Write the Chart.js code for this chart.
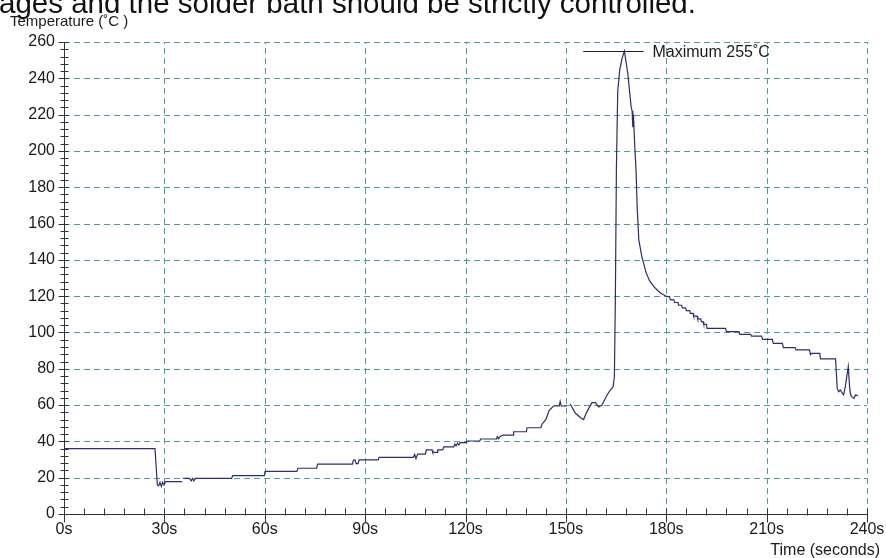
<!DOCTYPE html>
<html>
<head>
<meta charset="utf-8">
<script src="https://cdn.jsdelivr.net/npm/chart.js@4/dist/chart.umd.min.js"></script>
<style>
  html, body { margin: 0; padding: 0; background: #fff; }
  #wrap { width: 886px; height: 558px; position: relative; }
</style>
</head>
<body>
<div id="wrap"><canvas id="c" width="886" height="558"></canvas></div>
<script>
// Solder-bath temperature log: time (s) and temperature (°C); null = logger dropout
const timeSec = [
  0, 27.2, 27.9, 28.3, 28.7, 29.1, 29.5, 29.9, 30.3, 35.3,
  35.45, 35.6, 37.5, 38.0, 38.4, 38.8, 39.3, 50.1, 50.4, 59.9, 60.1,
  69.6, 69.9, 75.5, 75.8, 86.2, 86.5, 87.0, 87.3, 87.9, 88.2,
  93.9, 94.2, 104.4, 104.8, 105.2, 105.7, 108.0, 108.3, 110.0, 110.2,
  111.5, 111.7, 113.2, 113.5, 116.5, 116.8, 117.2, 117.6, 118.0, 118.4,
  120.3, 120.5, 124.3, 124.5, 129.3, 129.5, 129.9, 130.3, 131.2, 134.2,
  134.4, 138.2, 138.4, 142.5, 142.9, 144.0, 145.0, 146.3, 148.0, 148.3,
  148.6, 150.3, 150.8, 151.3, 152.8, 154.4, 155.3, 156.3, 157.8, 158.8, 159.8,
  160.8, 162.3, 163.3, 164.1, 164.5, 164.8, 165.1, 165.5, 166.1, 166.8,
  167.5, 168.5, 169.5, 169.8, 170.0, 170.2, 170.5, 171.0, 171.3, 171.8,
  172.7, 174.0, 175.0, 176.3, 177.5, 178.5, 179.5, 180.3, 181.0, 181.2,
  182.3, 182.5, 183.5, 183.7, 184.6, 184.8, 185.8, 186.0, 187.0, 187.2,
  188.0, 188.2, 189.2, 189.4, 190.3, 190.5, 191.0, 191.2, 192.0, 192.2,
  197.7, 198.0, 201.7, 202.0, 205.2, 205.5, 208.5, 208.8, 211.7, 212.0,
  214.7, 215.0, 218.5, 218.8, 222.8, 223.1, 223.4, 225.9, 226.1, 230.6,
  231.1, 231.5, 232.0, 232.5, 233.0, 233.5, 234.4, 234.8, 235.1, 235.5,
  236.1, 236.6, 237.3
];
const tempC = [
  36, 36, 16, 15.5, 17.5, 15.2, 17.5, 16, 17.8, 17.8,
  null, 19.6, 19.6, 18.3, 19.6, 18.3, 19.6, 19.6, 21.1, 21.1, 23.5,
  23.5, 25.2, 25.2, 27.5, 27.5, 29.7, 29.7, 27.8, 27.8, 29.8,
  29.8, 31.2, 31.2, 32.8, 30.5, 33, 33, 35.3, 35.3, 34,
  34, 35.3, 35.3, 37, 37, 38.5, 37.5, 39, 38, 39.3,
  39.3, 40.2, 40.2, 41.3, 41.3, 42.6, 41.5, 42.6, 43.5, 43.5,
  45.3, 45.3, 47.5, 47.5, 49.6, 52, 57, 59.5, 59.5, 62,
  59.5, 59.5, null, 60.6, 55.6, 53, 52, 56.4, 61.3, 61.3, 59,
  60, 65.5, 68.3, 70, 75.6, 120, 190, 233, 244.6, 251,
  255, 242.8, 224.4, 222, 213, 220, 206, 187.8, 169.3, 151,
  141.8, 132.8, 128.5, 125.2, 123, 121.5, 120.5, 119.7, 119.7, 118,
  118, 116.5, 116.5, 115, 115, 113.5, 113.5, 112, 112, 110.5,
  110.5, 109, 109, 107.5, 107.5, 106, 106, 104.5, 104.5, 102.3,
  102.3, 100.5, 100.5, 99, 99, 98, 98, 96.2, 96.2, 94,
  94, 91.6, 91.6, 90.4, 90.4, 87.8, 88.5, 88.5, 85.4, 85.4,
  69.2, 67.4, 68.3, 66.8, 65.6, 70, 81.2, 70, 65.6, 64.5,
  63.7, 65.6, 65
];

// axis ranges and tick steps
const xRange = [0, 240];
const yRange = [0, 260];
const xMajorStep = 30, xMinorStep = 6;
const yMajorStep = 20, yMinorStep = 4;

// peak annotation
const peakValue = 255;
const peakLineSpan = [155.2, 173.2];
const peakText = 'Maximum 255˚C';

const headText = 'ages and the solder bath should be strictly controlled.';
const yAxisTitle = 'Temperature (˚C )';
const xAxisTitle = 'Time (seconds)';

const FONT = '"Liberation Sans", Arial, sans-serif';
const GRID = '#4f9ca0';
const AXIS = '#333333';
const INK = '#1a1a1a';

const points = timeSec.map((t, i) => ({ x: t, y: tempC[i] }));

const crisp = v => Math.round(v) + 0.5;

// dashed grid under the trace
const dashedGrid = {
  id: 'dashedGrid',
  beforeDatasetsDraw(chart) {
    const { ctx, chartArea: a, scales: { x, y } } = chart;
    ctx.save();
    ctx.strokeStyle = GRID;
    ctx.lineWidth = 1;
    ctx.setLineDash([6, 4]);
    ctx.beginPath();
    for (let v = xRange[0] + xMajorStep; v <= xRange[1]; v += xMajorStep) {
      const px = crisp(x.getPixelForValue(v));
      ctx.moveTo(px, a.bottom);
      ctx.lineTo(px, a.top);
    }
    for (let v = yRange[0] + yMajorStep; v <= yRange[1]; v += yMajorStep) {
      const py = crisp(y.getPixelForValue(v));
      ctx.moveTo(a.left, py);
      ctx.lineTo(a.right, py);
    }
    ctx.stroke();
    ctx.restore();
  }
};

const extras = {
  id: 'extras',
  afterDraw(chart) {
    const { ctx, scales: { x, y } } = chart;
    const left = crisp(x.left), bottom = crisp(y.bottom);
    ctx.save();
    ctx.strokeStyle = AXIS;
    ctx.lineWidth = 1;
    ctx.beginPath();
    // axis lines
    ctx.moveTo(left, crisp(y.top));
    ctx.lineTo(left, bottom);
    ctx.lineTo(crisp(x.right), bottom);
    // y-axis ticks crossing the axis line
    for (let v = yRange[0]; v <= yRange[1]; v += yMinorStep) {
      const py = crisp(y.getPixelForValue(v));
      const major = v % yMajorStep === 0;
      ctx.moveTo(left - (major ? 6 : 4), py);
      ctx.lineTo(left + 4, py);
    }
    // x-axis ticks
    for (let v = xRange[0]; v <= xRange[1]; v += xMinorStep) {
      const px = crisp(x.getPixelForValue(v));
      const major = v % xMajorStep === 0;
      ctx.moveTo(px, bottom - 6);
      ctx.lineTo(px, bottom + (major ? 8 : 1));
    }
    ctx.stroke();

    // peak marker line + label
    const py = crisp(y.getPixelForValue(peakValue));
    ctx.strokeStyle = '#1d1d3a';
    ctx.beginPath();
    ctx.moveTo(x.getPixelForValue(peakLineSpan[0]), py);
    ctx.lineTo(x.getPixelForValue(peakLineSpan[1]), py);
    ctx.stroke();
    ctx.fillStyle = INK;
    ctx.font = '16px ' + FONT;
    ctx.textBaseline = 'middle';
    ctx.textAlign = 'left';
    ctx.fillText(peakText, x.getPixelForValue(peakLineSpan[1]) + 9, py + 1);

    // axis titles
    ctx.textBaseline = 'alphabetic';
    ctx.font = '15px ' + FONT;
    ctx.fillText(yAxisTitle, 10, 26);
    ctx.font = '16px ' + FONT;
    ctx.textAlign = 'right';
    ctx.fillText(xAxisTitle, 880, 555);

    // running sentence from the text above the chart
    ctx.textAlign = 'left';
    ctx.font = '29.5px ' + FONT;
    ctx.fillStyle = '#111';
    ctx.fillText(headText, -1, 12.5);
    ctx.restore();
  }
};

new Chart(document.getElementById('c'), {
  type: 'line',
  data: {
    datasets: [{
      data: points,
      borderColor: '#2c2c72',
      borderWidth: 1.2,
      pointRadius: 0,
      tension: 0,
      fill: false,
      spanGaps: false
    }]
  },
  options: {
    responsive: false,
    animation: false,
    devicePixelRatio: 1,
    layout: { padding: { top: 42, right: 19, left: 0, bottom: 0 } },
    plugins: { legend: { display: false }, tooltip: { enabled: false } },
    scales: {
      x: {
        type: 'linear',
        min: xRange[0], max: xRange[1],
        afterFit(s) { s.height = 44; s.paddingLeft = 0; s.paddingRight = 0; },
        ticks: {
          stepSize: xMajorStep,
          padding: 6,
          color: INK,
          font: { family: FONT, size: 16 },
          maxRotation: 0,
          callback: v => v + 's'
        },
        grid: { display: false, drawTicks: false },
        border: { display: false }
      },
      y: {
        type: 'linear',
        min: yRange[0], max: yRange[1],
        afterFit(s) { s.width = 64; s.paddingTop = 0; s.paddingBottom = 0; },
        ticks: {
          stepSize: yMajorStep,
          padding: 9,
          color: INK,
          font: { family: FONT, size: 16 }
        },
        grid: { display: false, drawTicks: false },
        border: { display: false }
      }
    }
  },
  plugins: [dashedGrid, extras]
});
</script>
</body>
</html>
